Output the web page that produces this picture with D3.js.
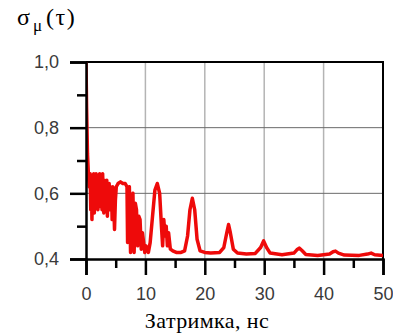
<!DOCTYPE html>
<html>
<head>
<meta charset="utf-8">
<script src="https://cdn.jsdelivr.net/npm/d3@7"></script>
<style>
  body { margin: 0; background: #fff; }
  svg { display: block; }
</style>
</head>
<body>
<svg width="393" height="335"></svg>
<script>
// delay, ns
const tau = [
  0, 0.1, 0.25, 0.4, 0.55, 0.7, 0.8, 0.9, 1.0, 1.1, 1.2, 1.3, 1.4, 1.5, 1.6, 1.7, 1.8, 1.9,
  2.0, 2.1, 2.2, 2.3, 2.4, 2.5, 2.6, 2.7, 2.8, 2.9, 3.0, 3.1, 3.2, 3.3, 3.4, 3.5, 3.6, 3.7,
  3.8, 3.9, 4.0, 4.1, 4.2, 4.3, 4.4, 4.5, 4.6, 4.7, 4.8, 4.95, 5.1, 5.4, 5.8, 6.2, 6.6, 6.9,
  7.0, 7.1, 7.3, 7.5, 7.7, 7.9, 8.1, 8.3, 8.5, 8.7, 8.9, 9.1, 9.3, 9.5, 9.7, 9.9, 10.1, 10.3,
  10.5, 10.8, 11.2, 11.6, 12.0, 12.4, 12.7, 12.9, 13.1, 13.3, 13.5, 13.7, 13.9,
  14.2, 14.6, 15.2, 16, 16.6, 17.1, 17.5, 17.9, 18.3, 18.7, 19.2, 20, 21, 22.5,
  23.2, 23.7, 24.0, 24.3, 24.8, 25.5, 27, 28.5, 29.4, 29.9, 30.4, 31, 33, 35,
  35.5, 35.9, 36.4, 37, 39, 41, 41.6, 42, 42.5, 43.5, 46, 47.4, 48, 48.6, 50
];
// sigma_mu(tau)
const sigma = [
  1.0, 0.86, 0.72, 0.66, 0.62, 0.66, 0.55, 0.65, 0.52, 0.63, 0.6, 0.66, 0.54, 0.62, 0.58, 0.66, 0.57, 0.64,
  0.55, 0.65, 0.6, 0.66, 0.56, 0.64, 0.62, 0.55, 0.66, 0.6, 0.54, 0.64, 0.58, 0.63, 0.56, 0.64, 0.53, 0.62,
  0.6, 0.63, 0.55, 0.62, 0.58, 0.61, 0.52, 0.62, 0.6, 0.55, 0.49, 0.58, 0.62, 0.63, 0.635, 0.63, 0.63, 0.62,
  0.45, 0.6, 0.62, 0.42, 0.58, 0.6, 0.42, 0.57, 0.55, 0.44, 0.53, 0.52, 0.43, 0.48, 0.45, 0.42, 0.44, 0.43,
  0.42, 0.45, 0.53, 0.61, 0.63, 0.6, 0.5, 0.44, 0.52, 0.47, 0.5, 0.44, 0.48,
  0.43, 0.425, 0.42, 0.42, 0.425, 0.47, 0.55, 0.585, 0.55, 0.46, 0.425, 0.42, 0.418, 0.42,
  0.435, 0.48, 0.505, 0.48, 0.43, 0.418, 0.415, 0.417, 0.435, 0.455, 0.435, 0.418, 0.413, 0.418,
  0.428, 0.433, 0.425, 0.414, 0.411, 0.415, 0.422, 0.424, 0.418, 0.412, 0.411, 0.415, 0.418, 0.413, 0.411
];
const xMajor = [0, 10, 20, 30, 40, 50];
const xMinor = [5, 15, 25, 35, 45];
const yMajor = [0.4, 0.6, 0.8, 1.0];
const yMinor = [0.5, 0.7, 0.9];

const serif = "'Liberation Serif', 'Times New Roman', 'DejaVu Serif', serif";
const svg = d3.select("svg");
const plotLeft = 86, plotRight = 383, plotTop = 62, plotBottom = 259;

const x = d3.scaleLinear().domain([0, 50]).range([plotLeft, plotRight]);
const y = d3.scaleLinear().domain([0.4, 1.0]).range([plotBottom, plotTop]);
const fmt = (d) => d3.format(".1f")(d).replace(".", ",");

// grid lines
svg.append("g")
  .selectAll("line")
  .data([10, 20, 30, 40])
  .join("line")
  .attr("x1", (d) => x(d)).attr("x2", (d) => x(d))
  .attr("y1", plotTop).attr("y2", plotBottom)
  .attr("stroke", "#b4b4b4")
  .attr("stroke-width", 1.5);

svg.append("g")
  .selectAll("line")
  .data([0.6, 0.8])
  .join("line")
  .attr("x1", plotLeft).attr("x2", plotRight)
  .attr("y1", (d) => y(d)).attr("y2", (d) => y(d))
  .attr("stroke", "#6a6a6a")
  .attr("stroke-width", 1);

// frame top/right
svg.append("path")
  .attr("d", `M${plotLeft},${plotTop}H${plotRight}V${plotBottom}`)
  .attr("fill", "none")
  .attr("stroke", "#000")
  .attr("stroke-width", 2);

// data line
svg.append("clipPath").attr("id", "clip")
  .append("rect")
  .attr("x", plotLeft).attr("y", plotTop - 2)
  .attr("width", plotRight - plotLeft).attr("height", plotBottom - plotTop + 2);

const line = d3.line()
  .x((d, i) => x(tau[i]))
  .y((d) => y(d));

svg.append("path")
  .datum(sigma)
  .attr("clip-path", "url(#clip)")
  .attr("d", line)
  .attr("fill", "none")
  .attr("stroke", "#ee0a0a")
  .attr("stroke-width", 3.5)
  .attr("stroke-linejoin", "round");

// x axis
const xAxis = svg.append("g").attr("transform", `translate(0,${plotBottom})`);
xAxis.call(d3.axisBottom(x).tickValues(xMajor).tickSize(16).tickPadding(12).tickFormat(d3.format("d")));
xAxis.append("g")
  .call(d3.axisBottom(x).tickValues(xMinor).tickSize(9).tickFormat(""))
  .select(".domain").remove();

// y axis
const yAxis = svg.append("g").attr("transform", `translate(${plotLeft},0)`);
yAxis.call(d3.axisLeft(y).tickValues(yMajor).tickSize(16).tickPadding(11).tickFormat(fmt));
yAxis.append("g")
  .call(d3.axisLeft(y).tickValues(yMinor).tickSize(9).tickFormat(""))
  .select(".domain").remove();

svg.selectAll(".domain").attr("stroke-width", 2.5);
svg.selectAll(".tick line").attr("stroke", "#000").attr("stroke-width", 2.5);
svg.selectAll(".tick text")
  .attr("font-family", "'Liberation Sans', Arial, sans-serif")
  .attr("font-size", 18)
  .attr("fill", "#3a3a3a");

// title
const title = svg.append("text")
  .attr("y", 25)
  .attr("font-family", serif)
  .attr("font-size", 24)
  .attr("fill", "#000");
title.append("tspan").attr("x", 17).text("σ");
title.append("tspan").attr("x", 33).attr("dy", 6).attr("font-size", 17).text("μ");
title.append("tspan").attr("x", 46).attr("dy", -6).attr("letter-spacing", 1.5).text("(τ)");

// x label
svg.append("text")
  .attr("x", 207).attr("y", 328)
  .attr("text-anchor", "middle")
  .attr("font-family", serif)
  .attr("font-size", 22)
  .attr("letter-spacing", 0.4)
  .attr("fill", "#000")
  .text("Затримка, нс");
</script>
</body>
</html>
